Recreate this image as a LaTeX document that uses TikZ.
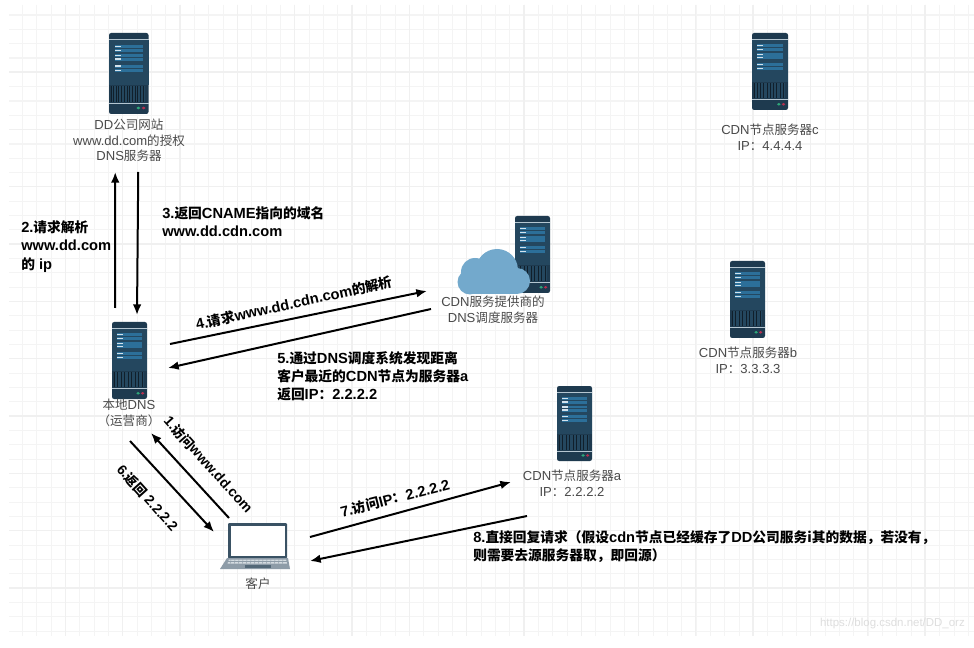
\documentclass[tikz,border=0pt]{standalone}
\usepackage{fontspec}
\setmainfont{Liberation Sans}
\newfontfamily\cjk{Noto Sans CJK SC}
\newcommand{\zh}[1]{{\cjk\fontsize{9.4pt}{11.8pt}\selectfont #1}}
\newcommand{\zb}[1]{{\cjk\fontsize{10.3pt}{13.6pt}\selectfont #1}}
\usetikzlibrary{arrows.meta}
\definecolor{gridminor}{HTML}{F4F4F4}
\definecolor{gridmajor}{HTML}{F0F0F0}
\definecolor{srvbody}{HTML}{1E3A4F}
\definecolor{srvpanel}{HTML}{24475F}
\definecolor{srvline}{HTML}{B5C6D1}
\definecolor{srvbar}{HTML}{2C6F99}
\definecolor{srvlight}{HTML}{D3E3ED}
\definecolor{srvvent}{HTML}{101F2B}
\definecolor{ledgreen}{HTML}{2FA87A}
\definecolor{ledred}{HTML}{B5304F}
\definecolor{cloudblue}{HTML}{73A9CC}
\definecolor{lapframe}{HTML}{3A5264}
\definecolor{lapbase}{HTML}{8E9CA8}
\definecolor{lapkeys}{HTML}{D5DCE1}
\definecolor{labelgrey}{HTML}{4A4A4A}
\definecolor{markgrey}{HTML}{DEDEDE}
\tikzset{
  srvbox/.style={inner sep=0pt,outer sep=0pt},
  lbl/.style={inner sep=0pt,align=center,text=labelgrey,font=\fontsize{9.8pt}{11.8pt}\selectfont},
  boldlbl/.style={inner sep=0pt,align=left,text=black,font=\fontsize{11pt}{13.6pt}\selectfont\bfseries},
  flow/.style={line width=1.5pt,black,-{Latex[length=8pt,width=6.5pt]}},
}
% name, left, top, width, height
\newcommand{\serverbox}[5]{%
  \node[srvbox,minimum width=#4*0.75pt,minimum height=#5*0.75pt] (#1) at ({#2+#4/2},{#3+#5/2}) {};
  \begin{scope}[shift={(#2,#3)},x=#4*0.75pt,y=-#5*0.75pt]
    \fill[srvbody,rounded corners=1.6pt] (0,0) rectangle (1,1);
    \fill[srvpanel] (0,.09) rectangle (1,.64);
    \fill[srvline] (0,.075) rectangle (1,.09);
    \fill[srvline] (0,.86) rectangle (1,.875);
    \foreach \v in {.148,.198,.262,.305,.392,.445}{
      \fill[srvbar] (.15,\v) rectangle (.86,\v+.036);
      \fill[srvlight] (.15,\v+.008) rectangle (.30,\v+.026);
    }
    \fill[srvvent] (.06,.65) rectangle (.92,.85);
    \foreach \u in {.09,.13,...,.90}{
      \draw[srvpanel,line width=.45pt] (\u,.65) -- (\u,.85);
    }
    \fill[ledgreen] (.745,.926) circle[x radius=.05,y radius=.018];
    \fill[ledred] (.875,.926) circle[x radius=.05,y radius=.018];
  \end{scope}
}
\begin{document}
\begin{tikzpicture}[x=0.75pt,y=-0.75pt]
\useasboundingbox (0,0) rectangle (974,648);
\fill[white] (0,0) rectangle (974,648);
% grid
\foreach \k in {0,...,66}{
  \draw[gridminor,line width=.8pt] ({22.6+14.33*\k},5) -- ({22.6+14.33*\k},636);
}
\foreach \k in {0,...,43}{
  \draw[gridminor,line width=.8pt] (9,{15+14.33*\k}) -- (974,{15+14.33*\k});
}
\foreach \k in {0,...,15}{
  \draw[gridmajor,line width=1pt] ({65.3+57.32*\k},5) -- ({65.3+57.32*\k},636);
}
\foreach \k in {0,...,9}{
  \draw[gridmajor,line width=1pt] (9,{72+57.32*\k}) -- (974,{72+57.32*\k});
}
% servers
\serverbox{auth}{109}{33}{39.5}{81}
\serverbox{srvc}{752}{33}{36}{77}
\serverbox{srvb}{730}{261}{35}{77}
\serverbox{sched}{515}{216}{35}{77}
\serverbox{ldns}{112}{322}{35}{77}
\serverbox{srva}{557}{386}{35}{75}
% cloud
\fill[cloudblue] (497,270) circle[radius=21];
\fill[cloudblue] (475,272) circle[radius=14];
\fill[cloudblue] (470,282) circle[radius=12.5];
\fill[cloudblue] (517,281) circle[radius=13];
\fill[cloudblue] (470,276) rectangle (517,294.5);
% laptop
\node[srvbox,minimum width=70*0.75pt,minimum height=46*0.75pt] (client) at (255,546) {};
\fill[lapframe,rounded corners=.8pt] (228,523) rectangle (287,558.5);
\fill[white] (230.5,526) rectangle (284.5,556);
\fill[lapbase] (227,558) -- (288,558) -- (290,569) -- (220,569) -- cycle;
\fill[lapkeys] (229,559.5) -- (286,559.5) -- (287,563.5) -- (227.5,563.5) -- cycle;
\foreach \u in {231,235,...,284}{
  \draw[lapbase,line width=.4pt] (\u,559.5) -- (\u-.4,563.5);
}
\draw[lapbase,line width=.4pt] (228,561.5) -- (287,561.5);
\fill[lapframe!70!lapbase] (245,564.5) rectangle (271,567.5);
% labels
\node[lbl] (authlbl) at (129,140.5) {DD\zh{公司网站}\\www.dd.com\zh{的授权}\\DNS\zh{服务器}};
\node[lbl] (clbl) at (770,137.5) {CDN\zh{节点服务器}c\\IP\zh{：}4.4.4.4};
\node[lbl] (blbl) at (748,360.5) {CDN\zh{节点服务器}b\\IP\zh{：}3.3.3.3};
\node[lbl] (schedlbl) at (493,310) {CDN\zh{服务提供商的}\\DNS\zh{调度服务器}};
\node[lbl] (ldnslbl) at (129,413) {\zh{本地}DNS\\\zh{（运营商）}};
\node[lbl] (albl) at (572,483.5) {CDN\zh{节点服务器}a\\IP\zh{：}2.2.2.2};
\node[lbl] (clientlbl) at (258,584) {\zh{客户}};
% connectors (ends are offset from the named nodes)
\draw[flow] ([shift={(-14.5,-52.5)}]ldns.center) -- ([shift={(-13.5,98.5)}]auth.center);
\draw[flow] ([shift={(9.5,98.5)}]auth.center) -- ([shift={(7.5,-45.5)}]ldns.center);
\draw[flow] ([shift={(40.5,-16.5)}]ldns.center) -- ([shift={(-105.5,36.5)}]sched.center);
\draw[flow] ([shift={(-101.5,54.5)}]sched.center) -- ([shift={(38.5,7.5)}]ldns.center);
\draw[flow] ([shift={(-26,-28)}]client.center) -- ([shift={(21.5,72.5)}]ldns.center);
\draw[flow] ([shift={(0.5,80.5)}]ldns.center) -- ([shift={(-41,-14)}]client.center);
\draw[flow] ([shift={(55,-9)}]client.center) -- ([shift={(-63.5,58.5)}]srva.center);
\draw[flow] ([shift={(-47.5,92.5)}]srva.center) -- ([shift={(55,15)}]client.center);
% bold connector labels
\node[boldlbl,anchor=west] (l2) at (21,246.5) {2.\zb{请求解析}\\www.dd.com\\\zb{的} ip};
\node[boldlbl,anchor=west] (l3) at (162,222) {3.\zb{返回}CNAME\zb{指向的域名}\\www.dd.cdn.com};
\node[boldlbl,rotate=12.5] (l4) at (294,303) {4.\zb{请求}www.dd.cdn.com\zb{的解析}};
\node[boldlbl,anchor=west] (l5) at (277,376) {5.\zb{通过}DNS\zb{调度系统发现距离}\\\zb{客户最近的}CDN\zb{节点为服务器}a\\\zb{返回}IP\zb{：}2.2.2.2};
\node[boldlbl,rotate=-48,scale=.96] (l1) at (208.5,464.5) {1.\zb{访问}www.dd.com};
\node[boldlbl,rotate=-48,scale=.94] (l6) at (147.5,498) {6.\zb{返回} 2.2.2.2};
\node[boldlbl,rotate=14.5] (l7) at (395,498) {7.\zb{访问}IP\zb{：}2.2.2.2};
\node[boldlbl,anchor=west] (l8) at (473,546.5) {8.\zb{直接回复请求（假设}cdn\zb{节点已经缓存了}DD\zb{公司服务i其的数据，若没有，}\\\zb{则需要去源服务器取，即回源）}};
% watermark
\node[inner sep=0pt,anchor=east,text=markgrey,font=\fontsize{8.6pt}{10pt}\selectfont] (mark) at (965,624) {https://blog.csdn.net/DD\_orz};
\end{tikzpicture}
\end{document}
